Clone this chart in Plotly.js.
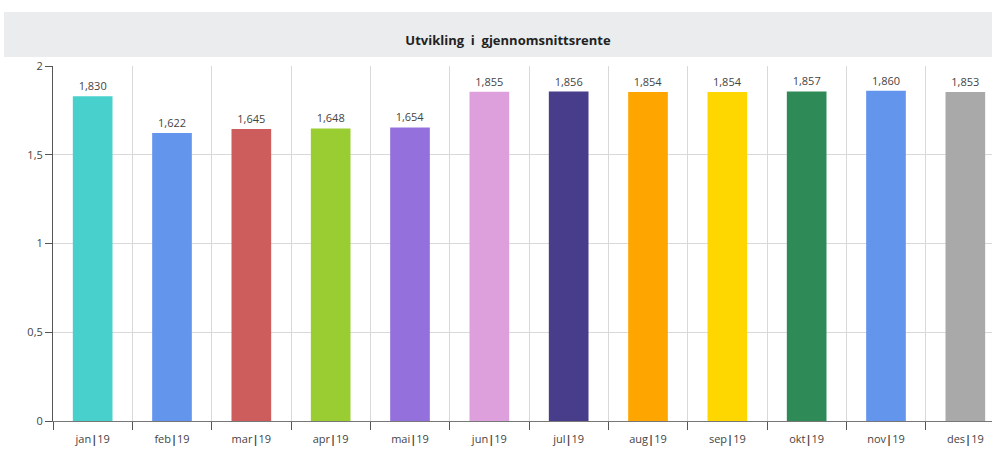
<!DOCTYPE html>
<html><head><meta charset="utf-8">
<script src="https://cdn.plot.ly/plotly-3.0.1.min.js"></script>
<style>html,body{margin:0;padding:0;overflow:hidden;background:#fff}</style>
</head><body>
<div id="chart" style="width:1012px;height:450px"></div>
<script>
var months = ["jan","feb","mar","apr","mai","jun","jul","aug","sep","okt","nov","des"];
var yearLabel = "19";
var values = [1.830,1.622,1.645,1.648,1.654,1.855,1.856,1.854,1.854,1.857,1.860,1.853];
var colors = ["#48D1CC","#6495ED","#CD5C5C","#9ACD32","#9370DB","#DDA0DD","#483D8B","#FFA500","#FFD700","#2E8B57","#6495ED","#A9A9A9"];
var categories = months.map(function(m){return m + "<b>|</b>" + yearLabel;});

var trace = {
  type: "bar",
  x: categories,
  y: values,
  width: 0.5,
  marker: {color: colors, line: {width: 0}},
  texttemplate: "%{y:.3f}",
  textposition: "outside",
  cliponaxis: false,
  textfont: {family: "Open Sans, sans-serif", size: 11, color: "#444"},
  hoverinfo: "x+y"
};

var W = 1012, L = 53, R = 7, T = 66, B = 29;
var pw = W - L - R, ph = 450 - T - B;
var layout = {
  width: W, height: 450,
  margin: {l: L, r: R, t: T, b: B, pad: 0},
  separators: ", ",
  paper_bgcolor: "#fff",
  plot_bgcolor: "#fff",
  showlegend: false,
  bargap: 0.5,
  title: {
    text: "<b>Utvikling  i  gjennomsnittsrente</b>",
    font: {family: "Open Sans, sans-serif", size: 13, color: "#222"},
    x: 508 / W, xref: "container", xanchor: "center",
    y: 1 - 40 / 450, yref: "container", yanchor: "middle"
  },
  shapes: [{
    type: "rect", xref: "paper", yref: "paper", layer: "below",
    x0: (4 - L) / pw, x1: (W - L) / pw + 0.01,
    y0: (421 - 57) / ph, y1: (421 - 12) / ph,
    fillcolor: "#ebecee", line: {width: 0}
  }],
  xaxis: {
    type: "category",
    tickson: "boundaries",
    ticks: "outside", ticklen: 8, tickcolor: "#555", tickwidth: 1,
    ticklabelstandoff: 8,
    showgrid: true, gridcolor: "#d9d9d9", gridwidth: 1,
    showline: true, linecolor: "#777", linewidth: 1,
    tickfont: {family: "Open Sans, sans-serif", size: 11, color: "#444"},
    fixedrange: true
  },
  yaxis: {
    range: [0, 2],
    dtick: 0.5,
    ticks: "outside", ticklen: 7, tickcolor: "#555",
    showgrid: true, gridcolor: "#d9d9d9", gridwidth: 1,
    showline: true, linecolor: "#555", linewidth: 1,
    zeroline: false,
    tickfont: {family: "Open Sans, sans-serif", size: 11, color: "#444"},
    fixedrange: true
  }
};
Plotly.newPlot("chart", [trace], layout, {displayModeBar: false, staticPlot: true});
</script>
</body></html>
